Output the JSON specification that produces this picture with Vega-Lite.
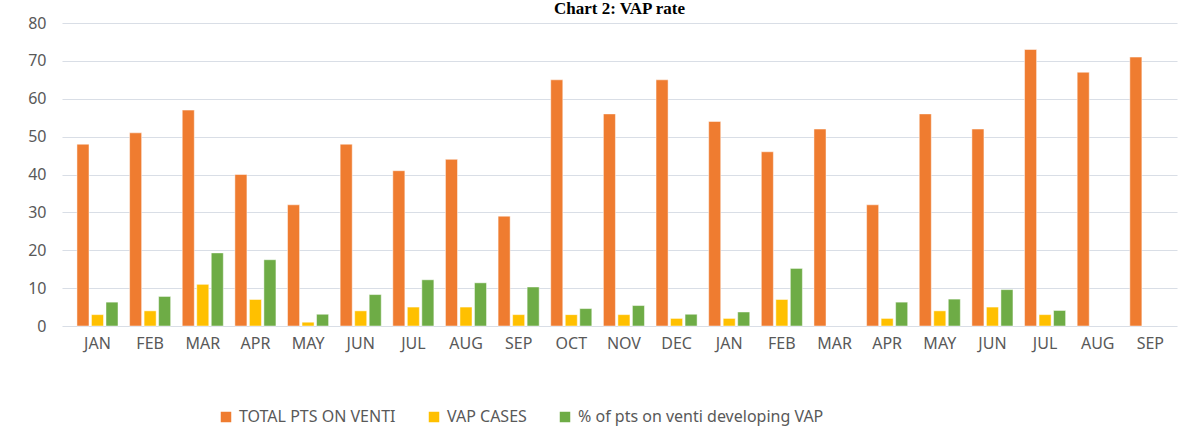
{
  "$schema": "https://vega.github.io/schema/vega-lite/v6.json",
  "autosize": "none",
  "width": 1115,
  "height": 303,
  "padding": {"left": 62, "top": 23, "right": 17, "bottom": 122},
  "background": "white",
  "title": {
    "text": "Chart 2: VAP rate",
    "font": "Liberation Serif",
    "fontSize": 17,
    "fontWeight": "bold",
    "color": "#000000",
    "anchor": "middle",
    "frame": "group",
    "offset": -3
  },
  "data": {
    "values": [
      {"k": "JAN-1", "series": "TOTAL PTS ON VENTI", "v": 48},
      {"k": "JAN-1", "series": "VAP CASES", "v": 3},
      {"k": "JAN-1", "series": "% of pts on venti developing VAP", "v": 6.3},
      {"k": "FEB-1", "series": "TOTAL PTS ON VENTI", "v": 51},
      {"k": "FEB-1", "series": "VAP CASES", "v": 4},
      {"k": "FEB-1", "series": "% of pts on venti developing VAP", "v": 7.8},
      {"k": "MAR-1", "series": "TOTAL PTS ON VENTI", "v": 57},
      {"k": "MAR-1", "series": "VAP CASES", "v": 11},
      {"k": "MAR-1", "series": "% of pts on venti developing VAP", "v": 19.3},
      {"k": "APR-1", "series": "TOTAL PTS ON VENTI", "v": 40},
      {"k": "APR-1", "series": "VAP CASES", "v": 7},
      {"k": "APR-1", "series": "% of pts on venti developing VAP", "v": 17.5},
      {"k": "MAY-1", "series": "TOTAL PTS ON VENTI", "v": 32},
      {"k": "MAY-1", "series": "VAP CASES", "v": 1},
      {"k": "MAY-1", "series": "% of pts on venti developing VAP", "v": 3.1},
      {"k": "JUN-1", "series": "TOTAL PTS ON VENTI", "v": 48},
      {"k": "JUN-1", "series": "VAP CASES", "v": 4},
      {"k": "JUN-1", "series": "% of pts on venti developing VAP", "v": 8.3},
      {"k": "JUL-1", "series": "TOTAL PTS ON VENTI", "v": 41},
      {"k": "JUL-1", "series": "VAP CASES", "v": 5},
      {"k": "JUL-1", "series": "% of pts on venti developing VAP", "v": 12.2},
      {"k": "AUG-1", "series": "TOTAL PTS ON VENTI", "v": 44},
      {"k": "AUG-1", "series": "VAP CASES", "v": 5},
      {"k": "AUG-1", "series": "% of pts on venti developing VAP", "v": 11.4},
      {"k": "SEP-1", "series": "TOTAL PTS ON VENTI", "v": 29},
      {"k": "SEP-1", "series": "VAP CASES", "v": 3},
      {"k": "SEP-1", "series": "% of pts on venti developing VAP", "v": 10.3},
      {"k": "OCT-1", "series": "TOTAL PTS ON VENTI", "v": 65},
      {"k": "OCT-1", "series": "VAP CASES", "v": 3},
      {"k": "OCT-1", "series": "% of pts on venti developing VAP", "v": 4.6},
      {"k": "NOV-1", "series": "TOTAL PTS ON VENTI", "v": 56},
      {"k": "NOV-1", "series": "VAP CASES", "v": 3},
      {"k": "NOV-1", "series": "% of pts on venti developing VAP", "v": 5.4},
      {"k": "DEC-1", "series": "TOTAL PTS ON VENTI", "v": 65},
      {"k": "DEC-1", "series": "VAP CASES", "v": 2},
      {"k": "DEC-1", "series": "% of pts on venti developing VAP", "v": 3.1},
      {"k": "JAN-2", "series": "TOTAL PTS ON VENTI", "v": 54},
      {"k": "JAN-2", "series": "VAP CASES", "v": 2},
      {"k": "JAN-2", "series": "% of pts on venti developing VAP", "v": 3.7},
      {"k": "FEB-2", "series": "TOTAL PTS ON VENTI", "v": 46},
      {"k": "FEB-2", "series": "VAP CASES", "v": 7},
      {"k": "FEB-2", "series": "% of pts on venti developing VAP", "v": 15.2},
      {"k": "MAR-2", "series": "TOTAL PTS ON VENTI", "v": 52},
      {"k": "APR-2", "series": "TOTAL PTS ON VENTI", "v": 32},
      {"k": "APR-2", "series": "VAP CASES", "v": 2},
      {"k": "APR-2", "series": "% of pts on venti developing VAP", "v": 6.3},
      {"k": "MAY-2", "series": "TOTAL PTS ON VENTI", "v": 56},
      {"k": "MAY-2", "series": "VAP CASES", "v": 4},
      {"k": "MAY-2", "series": "% of pts on venti developing VAP", "v": 7.1},
      {"k": "JUN-2", "series": "TOTAL PTS ON VENTI", "v": 52},
      {"k": "JUN-2", "series": "VAP CASES", "v": 5},
      {"k": "JUN-2", "series": "% of pts on venti developing VAP", "v": 9.6},
      {"k": "JUL-2", "series": "TOTAL PTS ON VENTI", "v": 73},
      {"k": "JUL-2", "series": "VAP CASES", "v": 3},
      {"k": "JUL-2", "series": "% of pts on venti developing VAP", "v": 4.1},
      {"k": "AUG-2", "series": "TOTAL PTS ON VENTI", "v": 67},
      {"k": "SEP-2", "series": "TOTAL PTS ON VENTI", "v": 71}
    ]
  },
  "mark": {"type": "bar", "stroke": "#ffffff", "strokeWidth": 0.8, "strokeOpacity": 0.6},
  "encoding": {
    "x": {
      "field": "k",
      "type": "nominal",
      "sort": null,
      "scale": {"paddingInner": 0.22, "paddingOuter": 0.2, "align": 0.71},
      "axis": {
        "title": null,
        "labelAngle": 0,
        "labelExpr": "split(datum.label, '-')[0]",
        "ticks": false,
        "domain": false,
        "labelFont": "Noto Sans",
        "labelFontSize": 16,
        "labelColor": "#595959",
        "labelPadding": 9
      }
    },
    "xOffset": {
      "field": "series",
      "type": "nominal",
      "sort": ["TOTAL PTS ON VENTI", "VAP CASES", "% of pts on venti developing VAP"],
      "scale": {"paddingInner": 0.17, "paddingOuter": 0}
    },
    "y": {
      "field": "v",
      "type": "quantitative",
      "scale": {"domain": [0, 80], "nice": false},
      "axis": {
        "title": null,
        "values": [0, 10, 20, 30, 40, 50, 60, 70, 80],
        "ticks": false,
        "domain": false,
        "gridColor": "#D9DEE6",
        "gridWidth": 1.2,
        "labelFont": "Noto Sans",
        "labelFontSize": 16,
        "labelColor": "#595959",
        "labelPadding": 16
      }
    },
    "color": {
      "field": "series",
      "type": "nominal",
      "scale": {
        "domain": ["TOTAL PTS ON VENTI", "VAP CASES", "% of pts on venti developing VAP"],
        "range": ["#EF7C30", "#FFC000", "#6EAC46"]
      },
      "legend": {
        "title": null,
        "orient": "none",
        "direction": "horizontal",
        "legendX": 156,
        "legendY": 386,
        "symbolType": "square",
        "symbolSize": 110,
        "symbolStrokeWidth": 0,
        "labelFont": "Noto Sans",
        "labelFontSize": 16,
        "labelColor": "#595959",
        "labelOffset": 5,
        "columnPadding": 30,
        "labelLimit": 500
      }
    }
  },
  "config": {"view": {"stroke": null}}
}
